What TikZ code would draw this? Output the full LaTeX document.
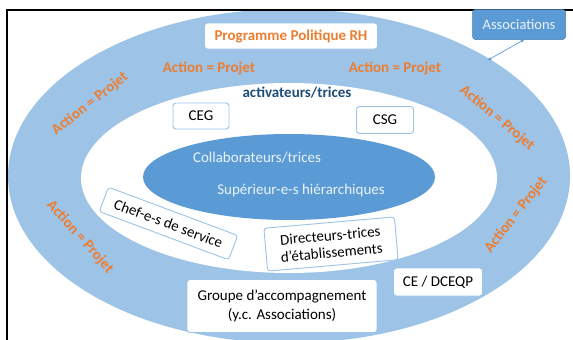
\documentclass[tikz,border=0pt]{standalone}
\usepackage{fontspec}
\setmainfont{Carlito}
\usetikzlibrary{arrows.meta}
\definecolor{ring}{HTML}{9DC3E6}
\definecolor{core}{HTML}{5B9BD5}
\definecolor{orng}{HTML}{ED7D31}
\definecolor{dblue}{HTML}{1F4E79}
\definecolor{boxline}{HTML}{9DC3E6}
\tikzset{
  wbox/.style={draw=boxline, line width=0.9pt, fill=white, rounded corners=3pt, align=center, font=\fontsize{15}{17}\selectfont, inner xsep=4pt, inner ysep=3pt},
  act/.style={text=orng, font=\bfseries\fontsize{15}{16}\selectfont},
}
\begin{document}
\begin{tikzpicture}[x=1pt,y=-1pt]
\useasboundingbox (0,0) rectangle (573,340);
\fill[white] (0,0) rectangle (573,340);
\begin{scope}
\clip (0,0) rectangle (573,340);
\fill[ring] (289,176) ellipse [x radius=281, y radius=167];
\fill[white] (289,178) ellipse [x radius=208, y radius=95];
\fill[core] (289,177) ellipse [x radius=146, y radius=43];
\end{scope}
\draw[black, line width=1.6pt] (7,341) -- (7,10) -- (574,10);
% core texts
\node[text=white!88!core, font=\fontsize{15}{16}\selectfont] (collab) at (257,158) {Collaborateurs/trices};
\node[text=white!88!core, font=\fontsize{15}{16}\selectfont] (sup) at (301,190) {Supérieur-e-s hiérarchiques};
\node[text=dblue, font=\bfseries\fontsize{15}{16}\selectfont] (activ) at (297,93) {activateurs/trices};
% boxes
\node[wbox, minimum width=173pt, minimum height=26pt, text=orng, font=\bfseries\fontsize{15}{16}\selectfont] (prog) at (291,36) {Programme Politique RH};
\node[wbox, minimum width=56pt, minimum height=26pt] (ceg) at (201,116) {CEG};
\node[wbox, minimum width=57pt, minimum height=27pt] (csg) at (385,120) {CSG};
\node[wbox, minimum width=138pt, minimum height=26pt, rotate=-20.5] (chef) at (168.5,223.5) {Chef-e-s de service};
\node[wbox, minimum width=131pt, minimum height=43pt, rotate=5] (dir) at (331,244) {Directeurs-trices\\d'établissements};
\node[wbox, minimum width=89pt, minimum height=28pt] (ce) at (438,282) {CE / DCEQP};
\node[wbox, minimum width=190pt, minimum height=53pt, font=\fontsize{15}{19}\selectfont] (grp) at (282,306) {Groupe d'accompagnement\\(y.c. Associations)};
\node[fill=core, draw=core!80!black, line width=0.5pt, rounded corners=3pt, text=white!88!core, font=\fontsize{14.5}{15}\selectfont, minimum width=93pt, minimum height=30pt] (assoc) at (519,24.5) {Associations};
\coordinate (ringpt) at (488,60);
\draw[core, line width=0.7pt, {Stealth[length=3.5pt,width=3.5pt]}-{Stealth[length=3.5pt,width=3.5pt]}] (ringpt) -- (assoc.-72);
% action labels
\node[act] (a1) at (209,68) {Action = Projet};
\node[act] (a2) at (395,68) {Action = Projet};
\node[act, rotate=38] (a3) at (90,104) {Action = Projet};
\node[act, rotate=-40] (a4) at (497,118) {Action = Projet};
\node[act, rotate=-48] (a5) at (80,237) {Action = Projet};
\node[act, rotate=52] (a6) at (516,215) {Action = Projet};
\end{tikzpicture}
\end{document}
